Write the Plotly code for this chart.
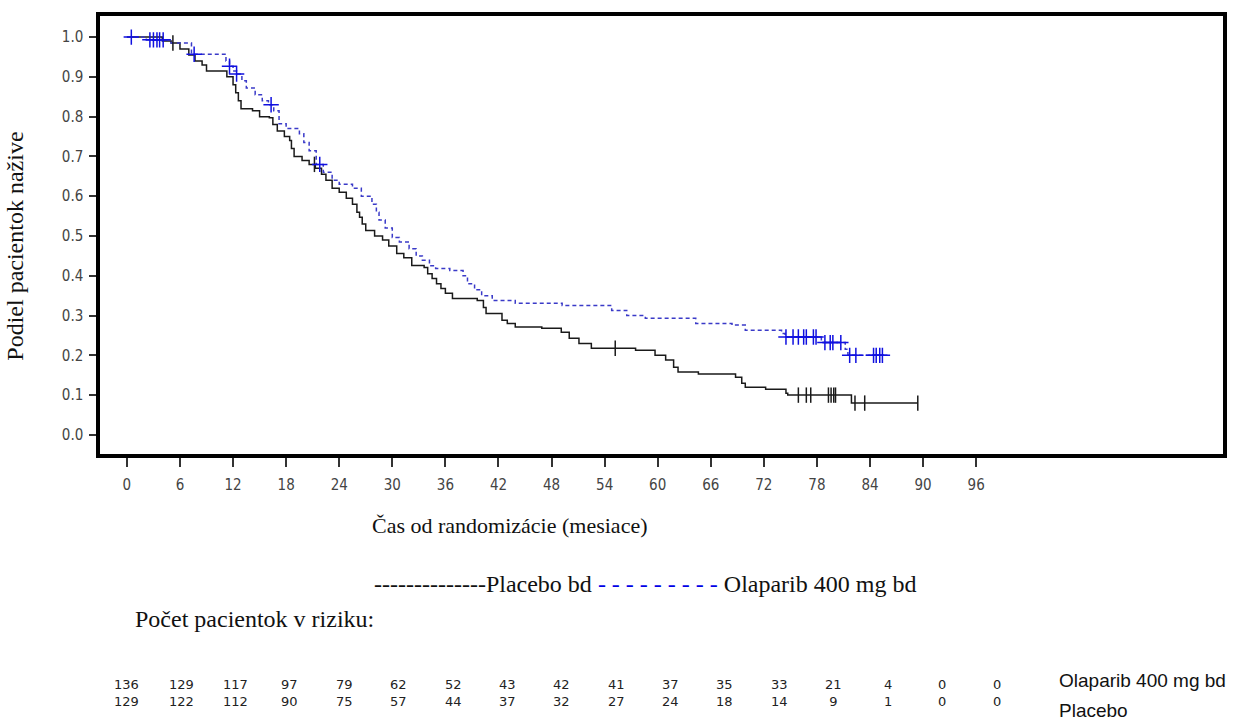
import numpy as np
import plotly.graph_objects as go

# ---- Data ----
olap_t = [0, 2.2, 5.0, 7.3, 11.2, 11.6, 12.0, 12.4, 13.0, 13.5, 14.5, 15.3, 16.0, 16.6, 17.2,
          18.0, 19.5, 20.0, 20.6, 21.4, 22.2, 23.2, 24.0, 25.5, 26.5, 27.7, 28.2, 28.5, 29.2, 30.0,
          30.8, 31.9, 32.7, 33.4, 34.2, 34.9, 36.5, 38.0, 38.5, 39.3, 40.1, 41.3, 43.9, 49.2, 54.8,
          56.5, 58.6, 64.3, 68.4, 69.9, 74.0, 74.4, 78.5, 81.2, 81.5, 85.8]
olap_s = [1.0, 0.993, 0.985, 0.957, 0.94, 0.927, 0.915, 0.907, 0.89, 0.872, 0.855, 0.84, 0.83, 0.815, 0.782,
          0.77, 0.757, 0.735, 0.714, 0.68, 0.66, 0.64, 0.63, 0.62, 0.60, 0.58, 0.56, 0.54, 0.52, 0.496,
          0.485, 0.468, 0.45, 0.439, 0.425, 0.418, 0.413, 0.40, 0.38, 0.365, 0.35, 0.338, 0.331, 0.325, 0.313,
          0.30, 0.293, 0.28, 0.276, 0.263, 0.255, 0.246, 0.232, 0.215, 0.20, 0.20]
olap_censor = [0.5, 2.6, 3.0, 3.4, 3.7, 4.1, 7.6, 11.6, 12.4, 16.3, 21.8, 74.5, 75.3, 75.9, 76.5, 76.8,
               77.6, 77.9, 78.9, 79.5, 79.8, 80.7, 81.7, 82.4, 84.4, 84.7, 85.1, 85.4]

plac_t = [0, 4.0, 5.0, 6.0, 7.0, 7.7, 8.5, 9.0, 11.3, 12.0, 12.3, 12.6, 12.9, 14.2, 15.0,
          16.1, 16.5, 17.0, 17.8, 18.4, 18.6, 18.9, 19.8, 20.6, 21.3, 22.0, 22.5, 23.2, 24.0, 24.8,
          25.5, 26.0, 26.3, 26.6, 27.0, 28.0, 28.9, 29.6, 30.5, 31.3, 32.2, 33.6, 34.0, 34.5, 35.0,
          35.5, 36.0, 36.8, 39.6, 40.3, 40.6, 42.4, 43.0, 43.9, 46.9, 49.1, 50.0, 51.1, 52.5, 57.5,
          59.7, 60.9, 61.8, 62.3, 64.6, 68.8, 69.5, 69.9, 72.2, 74.5, 74.7, 81.9, 89.4]
plac_s = [1.0, 0.99, 0.985, 0.97, 0.955, 0.94, 0.93, 0.915, 0.90, 0.88, 0.86, 0.84, 0.82, 0.815, 0.80,
          0.797, 0.78, 0.764, 0.75, 0.74, 0.72, 0.70, 0.69, 0.68, 0.67, 0.655, 0.64, 0.62, 0.61, 0.595,
          0.58, 0.56, 0.547, 0.53, 0.514, 0.50, 0.49, 0.475, 0.456, 0.445, 0.426, 0.421, 0.405, 0.393, 0.38,
          0.368, 0.356, 0.343, 0.338, 0.32, 0.305, 0.288, 0.28, 0.271, 0.268, 0.258, 0.243, 0.23, 0.218, 0.213,
          0.2, 0.188, 0.17, 0.158, 0.153, 0.145, 0.13, 0.12, 0.115, 0.105, 0.10, 0.08, 0.08]
plac_censor = [5.2, 21.2, 55.2, 75.9, 76.8, 77.3, 79.3, 79.6, 79.9, 80.1, 82.3, 83.4, 89.4]

risk_months = list(range(0, 97, 6))
olap_risk = [136, 129, 117, 97, 79, 62, 52, 43, 42, 41, 37, 35, 33, 21, 4, 0, 0]
plac_risk = [129, 122, 112, 90, 75, 57, 44, 37, 32, 27, 24, 18, 14, 9, 1, 0, 0]

y_ticks = [round(0.1 * i, 1) for i in range(11)]
y_ticktext = ["%.1f" % v for v in y_ticks]


def step_at(ts, ss, x):
    idx = np.searchsorted(np.array(ts), np.array(x), side="right") - 1
    return list(np.array(ss)[idx])


BLUE_LINE = "#3a3ac8"
BLUE_MARK = "#1010e0"
BLACK = "#1a1a1a"
SERIF = "Liberation Serif, Times New Roman, serif"
TICKFONT = dict(family="DejaVu Sans Condensed, Liberation Sans Narrow, sans-serif", size=15, color="#444")
TABLEFONT = dict(family="DejaVu Sans, sans-serif", size=13, color="#222")

fig = go.Figure()
fig.add_trace(go.Scatter(x=plac_t, y=plac_s, mode="lines", line=dict(color=BLACK, width=1.5, shape="hv"),
                         showlegend=False, hoverinfo="skip"))
fig.add_trace(go.Scatter(x=olap_t, y=olap_s, mode="lines",
                         line=dict(color=BLUE_LINE, width=1.5, shape="hv", dash="4px,3px"),
                         showlegend=False, hoverinfo="skip"))
fig.add_trace(go.Scatter(x=plac_censor, y=step_at(plac_t, plac_s, plac_censor), mode="markers",
                         marker=dict(symbol="line-ns", size=11, line=dict(color=BLACK, width=1.5)),
                         showlegend=False, hoverinfo="skip"))
fig.add_trace(go.Scatter(x=olap_censor, y=step_at(olap_t, olap_s, olap_censor), mode="markers",
                         marker=dict(symbol="cross-thin", size=11, line=dict(color=BLUE_MARK, width=1.5)),
                         showlegend=False, hoverinfo="skip"))
# invisible anchor trace for the at-risk table axis
fig.add_trace(go.Scatter(x=risk_months, y=[None] * len(risk_months), xaxis="x2", yaxis="y",
                         mode="markers", showlegend=False, hoverinfo="skip"))

# Plot area in pixels: x 100..1226, y 15..454
L, R, T, B = 100, 1226, 15, 454
W, H = 1239, 725


def px(xp):
    return (xp - L) / (R - L)


def py(yp):
    return (B - yp) / (B - T)


annotations = []
annotations.append(dict(text="Podiel pacientok nažive", x=px(15), y=py(246), xref="paper", yref="paper",
                        textangle=-90, showarrow=False, font=dict(family=SERIF, size=24, color="#111"),
                        xanchor="center", yanchor="middle"))
annotations.append(dict(text="Čas od randomizácie (mesiace)", x=px(511), y=py(526), xref="paper", yref="paper",
                        showarrow=False, font=dict(family=SERIF, size=22, color="#111"),
                        xanchor="center", yanchor="middle"))
annotations.append(dict(text="--------------Placebo bd <span style='color:#0000e6'>- - - - - - - - -</span> Olaparib 400 mg bd",
                        x=px(373), y=py(584), xref="paper", yref="paper", showarrow=False,
                        font=dict(family=SERIF, size=24, color="#111"), xanchor="left", yanchor="middle"))
annotations.append(dict(text="Počet pacientok v riziku:", x=px(133), y=py(619), xref="paper", yref="paper",
                        showarrow=False, font=dict(family=SERIF, size=24, color="#111"),
                        xanchor="left", yanchor="middle"))
# at-risk table: one two-line text per time point (Olaparib on top, Placebo below)
for m, a, b in zip(risk_months, olap_risk, plac_risk):
    annotations.append(dict(text="%d<br>%d" % (a, b), x=m, y=py(693.5), xref="x2", yref="paper",
                            showarrow=False, font=TABLEFONT, xanchor="center", yanchor="middle",
                            align="center"))
annotations.append(dict(text="Olaparib 400 mg bd", x=px(1060), y=py(681), xref="paper", yref="paper",
                        showarrow=False, font=dict(family="Liberation Sans, Arial, sans-serif", size=19, color="#111"),
                        xanchor="left", yanchor="middle"))
annotations.append(dict(text="Placebo", x=px(1060), y=py(711), xref="paper", yref="paper",
                        showarrow=False, font=dict(family="Liberation Sans, Arial, sans-serif", size=19, color="#111"),
                        xanchor="left", yanchor="middle"))

fig.update_layout(
    width=W, height=H,
    margin=dict(l=L, r=W - R, t=T, b=H - B, pad=0),
    paper_bgcolor="white", plot_bgcolor="white",
    annotations=annotations,
    xaxis=dict(range=[-3.04, 123.9], tickvals=risk_months, ticks="outside", ticklen=9, tickwidth=1.5,
               tickcolor="#333", showline=True, mirror=True, linewidth=3.5, linecolor="black",
               showgrid=False, zeroline=False, tickfont=TICKFONT, ticklabelstandoff=5),
    xaxis2=dict(range=[-2.97, 121.0], overlaying="x", visible=False, showgrid=False, zeroline=False),
    yaxis=dict(range=[-0.048, 1.053], tickvals=y_ticks, ticktext=y_ticktext, ticks="outside", ticklen=7,
               tickwidth=1.5, tickcolor="#333", showline=True, mirror=True, linewidth=3.5, linecolor="black",
               showgrid=False, zeroline=False, tickfont=TICKFONT, ticklabelstandoff=3),
)

fig.write_html("out.html")
